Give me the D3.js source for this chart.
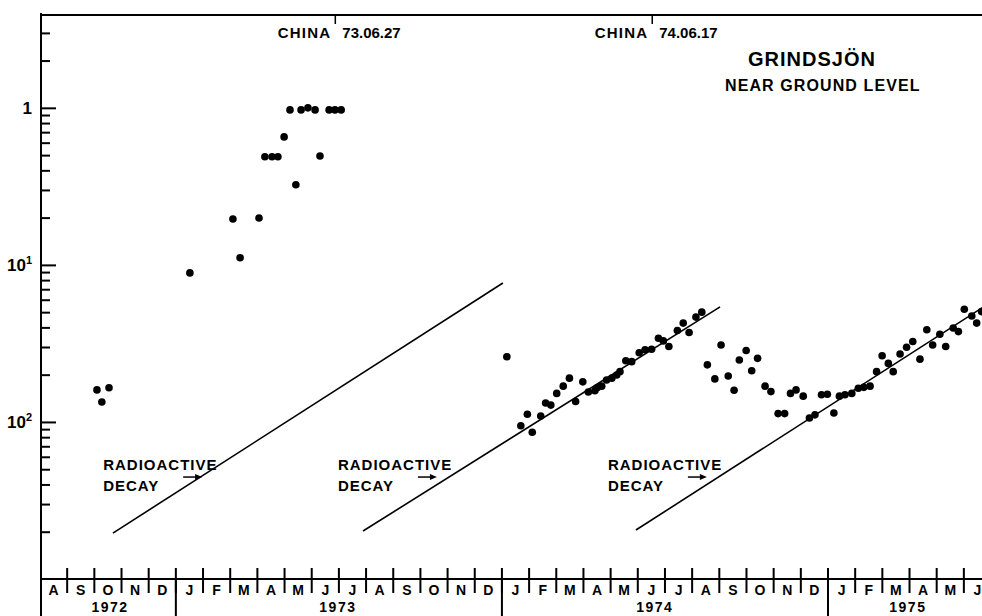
<!DOCTYPE html>
<html>
<head>
<meta charset="utf-8">
<script src="https://cdn.jsdelivr.net/npm/d3@7"></script>
<style>
  body { margin: 0; background: #fff; }
  svg { display: block; font-family: "Liberation Sans", Arial, sans-serif; font-weight: bold; }
</style>
</head>
<body>
<svg id="chart" width="982" height="616"></svg>
<script>
// Data (time in decimal years, activity on a log axis)
const monthLabels = ["A","S","O","N","D","J","F","M","A","M","J","J","A","S","O","N","D",
  "J","F","M","A","M","J","J","A","S","O","N","D","J","F","M","A","M","J"];
const yearLabels = ["1972", "1973", "1974", "1975"];
const yearLabelTimes = [1972.798, 1973.497, 1974.469, 1975.245];
const yearBreaks = [1973, 1974, 1975];

const majorTicks = [1, 0.1, 0.01];
const majorTickText = [["1", ""], ["10", "1"], ["10", "2"]];

const chinaLabels = ["CHINA", "CHINA"];
const chinaDates = ["73.06.27", "74.06.17"];
const chinaTimes = [1973.489, 1974.461];

const samples1972_73 = [
  [1972.758, 0.016], [1972.773, 0.0134], [1972.795, 0.0165],
  [1973.043, 0.0889], [1973.175, 0.196], [1973.197, 0.111], [1973.255, 0.199],
  [1973.273, 0.488], [1973.295, 0.488], [1973.313, 0.488], [1973.332, 0.653],
  [1973.35, 0.97], [1973.368, 0.324], [1973.384, 0.97], [1973.405, 1.0], [1973.427, 0.97],
  [1973.442, 0.494], [1973.47, 0.97], [1973.488, 0.97], [1973.507, 0.97],
];
const samples1974 = [
  [1974.015, 0.026],
  [1974.058, 0.00946], [1974.078, 0.0112], [1974.093, 0.00859], [1974.119, 0.0109],
  [1974.134, 0.0132], [1974.15, 0.0128], [1974.168, 0.0152], [1974.188, 0.0169],
  [1974.207, 0.019], [1974.226, 0.0135], [1974.248, 0.018], [1974.265, 0.0155],
  [1974.285, 0.0158], [1974.292, 0.0165], [1974.306, 0.0169], [1974.321, 0.0185],
  [1974.337, 0.019], [1974.352, 0.0199], [1974.362, 0.0209], [1974.38, 0.0245],
  [1974.398, 0.0242], [1974.421, 0.0276], [1974.439, 0.0288], [1974.459, 0.029],
  [1974.48, 0.0341], [1974.495, 0.0328], [1974.512, 0.0302], [1974.538, 0.0382],
  [1974.556, 0.0426], [1974.574, 0.0371], [1974.595, 0.0465], [1974.613, 0.05],
];
const samples1974_75 = [
  [1974.63, 0.0231], [1974.653, 0.0188], [1974.672, 0.0309], [1974.694, 0.0196],
  [1974.712, 0.0159], [1974.728, 0.0248], [1974.749, 0.0285], [1974.766, 0.0212],
  [1974.784, 0.0254], [1974.807, 0.0169], [1974.825, 0.0156], [1974.847, 0.0113],
  [1974.867, 0.0113], [1974.885, 0.0152], [1974.902, 0.016], [1974.924, 0.0146],
  [1974.943, 0.0106], [1974.96, 0.0111], [1974.98, 0.0149], [1974.998, 0.015],
  [1975.018, 0.0114], [1975.035, 0.0146], [1975.052, 0.0149], [1975.073, 0.0152],
  [1975.093, 0.0164], [1975.11, 0.0166], [1975.129, 0.0169], [1975.149, 0.0209],
  [1975.166, 0.0264], [1975.185, 0.0236], [1975.2, 0.0209], [1975.221, 0.0271],
  [1975.241, 0.0299], [1975.26, 0.0325], [1975.282, 0.0251], [1975.303, 0.0386],
  [1975.321, 0.0309], [1975.343, 0.0362], [1975.361, 0.0302], [1975.384, 0.0396],
  [1975.4, 0.0376], [1975.418, 0.0522], [1975.441, 0.0473], [1975.456, 0.0426],
  [1975.471, 0.0504],
];

// radioactive decay reference lines: [t0, v0, t1, v1]
const decayLines = [
  [1972.807, 0.00196, 1974.003, 0.0767],
  [1973.574, 0.00202, 1974.669, 0.054],
  [1974.411, 0.00205, 1975.527, 0.063],
];
const decayLabelTimes = [1972.777, 1973.497, 1974.325];
const decayLabelValue = 0.00494;

// Scales
const x = d3.scaleLinear().domain([1972 + 7 / 12, 1975]).range([40, 828]);
const y = d3.scaleLog().domain([1e-3, 3.9]).range([579, 15]);

const svg = d3.select("#chart");
const x0 = 41;
const yBase = y(1e-3);

// Frame lines
svg.append("line").attr("x1", x0).attr("x2", 982).attr("y1", 15).attr("y2", 15)
  .attr("stroke", "#000").attr("stroke-width", 2);
svg.append("line").attr("x1", x0).attr("x2", x0).attr("y1", 13).attr("y2", 616)
  .attr("stroke", "#000").attr("stroke-width", 2);
svg.append("line").attr("x1", x0).attr("x2", 982).attr("y1", yBase).attr("y2", yBase)
  .attr("stroke", "#000").attr("stroke-width", 2);

// Y axis: minor ticks then labelled majors, all pointing inward
const minorTicks = y.ticks().filter((d) => !majorTicks.includes(d) && d > 1e-3);
const yMinor = svg.append("g").attr("transform", `translate(${x0},0)`)
  .call(d3.axisLeft(y).tickValues(minorTicks).tickSize(-9).tickFormat(""));
const yMajor = svg.append("g").attr("transform", `translate(${x0},0)`)
  .call(d3.axisLeft(y).tickValues(majorTicks).tickSize(-15).tickFormat(""));
[yMinor, yMajor].forEach((g) => {
  g.select(".domain").remove();
  g.selectAll("line").attr("stroke", "#000").attr("stroke-width", 2);
});

yMajor.selectAll(".tick").each(function (d, i) {
  const parts = majorTickText[i];
  const t = d3.select(this).append("text")
    .attr("x", -9)
    .attr("y", 6)
    .attr("text-anchor", "end")
    .attr("fill", "#000")
    .style("font-size", "17px")
    .style("font-family", "Liberation Sans, Arial, sans-serif")
    .style("font-weight", "bold");
  t.append("tspan").text(parts[0]);
  if (parts[1]) {
    t.append("tspan").attr("dy", -7).style("font-size", "11px").text(parts[1]);
  }
});

// X axis: month ticks, letters and year labels
const monthStart = 1972 + 7 / 12;
const monthTicks = monthLabels.map((m, i) => monthStart + i / 12);
monthTicks.push(monthStart + monthLabels.length / 12);

svg.selectAll(".month-tick")
  .data(monthTicks.slice(1))
  .enter()
  .append("line")
  .attr("class", "month-tick")
  .attr("x1", (d) => x(d))
  .attr("x2", (d) => x(d))
  .attr("y1", yBase - 11)
  .attr("y2", yBase + 14)
  .attr("stroke", "#000")
  .attr("stroke-width", 2);

svg.selectAll(".year-break")
  .data(yearBreaks)
  .enter()
  .append("line")
  .attr("class", "year-break")
  .attr("x1", (d) => x(d))
  .attr("x2", (d) => x(d))
  .attr("y1", yBase)
  .attr("y2", 616)
  .attr("stroke", "#000")
  .attr("stroke-width", 2);

svg.selectAll(".month-label")
  .data(monthLabels)
  .enter()
  .append("text")
  .attr("class", "month-label")
  .attr("x", (d, i) => x(monthTicks[i] + 1 / 24))
  .attr("y", yBase + 16)
  .attr("text-anchor", "middle")
  .style("font-size", "14px")
  .text((d) => d);

svg.selectAll(".year-label")
  .data(yearLabels)
  .enter()
  .append("text")
  .attr("class", "year-label")
  .attr("x", (d, i) => x(yearLabelTimes[i]))
  .attr("y", yBase + 33)
  .attr("text-anchor", "middle")
  .attr("letter-spacing", 1.5)
  .style("font-size", "14px")
  .text((d) => d);

// Nuclear test markers on the top frame
chinaTimes.forEach((t, i) => {
  const cx = x(t);
  svg.append("line").attr("x1", cx).attr("x2", cx).attr("y1", 15).attr("y2", 24)
    .attr("stroke", "#000").attr("stroke-width", 1.5);
  svg.append("text").attr("x", cx - 4).attr("y", 38).attr("text-anchor", "end")
    .attr("letter-spacing", 1.2).style("font-size", "15px").text(chinaLabels[i]);
  svg.append("text").attr("x", cx + 7).attr("y", 38)
    .style("font-size", "15px").text(chinaDates[i]);
});

// Title
svg.append("text").attr("x", 748).attr("y", 66).attr("letter-spacing", 1)
  .style("font-size", "20px").text("GRINDSJÖN");
svg.append("text").attr("x", 725).attr("y", 91).attr("letter-spacing", 1.1)
  .style("font-size", "16px").text("NEAR GROUND LEVEL");

// Decay lines
svg.selectAll(".decay")
  .data(decayLines)
  .enter()
  .append("line")
  .attr("class", "decay")
  .attr("x1", (d) => x(d[0]))
  .attr("y1", (d) => y(d[1]))
  .attr("x2", (d) => x(d[2]))
  .attr("y2", (d) => y(d[3]))
  .attr("stroke", "#000")
  .attr("stroke-width", 1.6);

// Decay labels with small arrows
decayLabelTimes.forEach((t) => {
  const lx = x(t);
  const ly = y(decayLabelValue);
  svg.append("text").attr("x", lx).attr("y", ly).attr("letter-spacing", 1)
    .style("font-size", "15px").text("RADIOACTIVE");
  svg.append("text").attr("x", lx).attr("y", ly + 21).attr("letter-spacing", 1)
    .style("font-size", "15px").text("DECAY");
  svg.append("line").attr("x1", lx + 80).attr("x2", lx + 93)
    .attr("y1", ly + 7).attr("y2", ly + 7)
    .attr("stroke", "#000").attr("stroke-width", 1.5);
  svg.append("path")
    .attr("d", `M${lx + 99},${ly + 7} L${lx + 92},${ly + 4} L${lx + 92},${ly + 10} Z`)
    .attr("fill", "#000");
});

// Measurement dots
const allSamples = samples1972_73.concat(samples1974, samples1974_75);
svg.selectAll(".dot")
  .data(allSamples)
  .enter()
  .append("circle")
  .attr("class", "dot")
  .attr("cx", (d) => x(d[0]))
  .attr("cy", (d) => y(d[1]))
  .attr("r", 3.8)
  .attr("fill", "#000");
</script>
</body>
</html>
